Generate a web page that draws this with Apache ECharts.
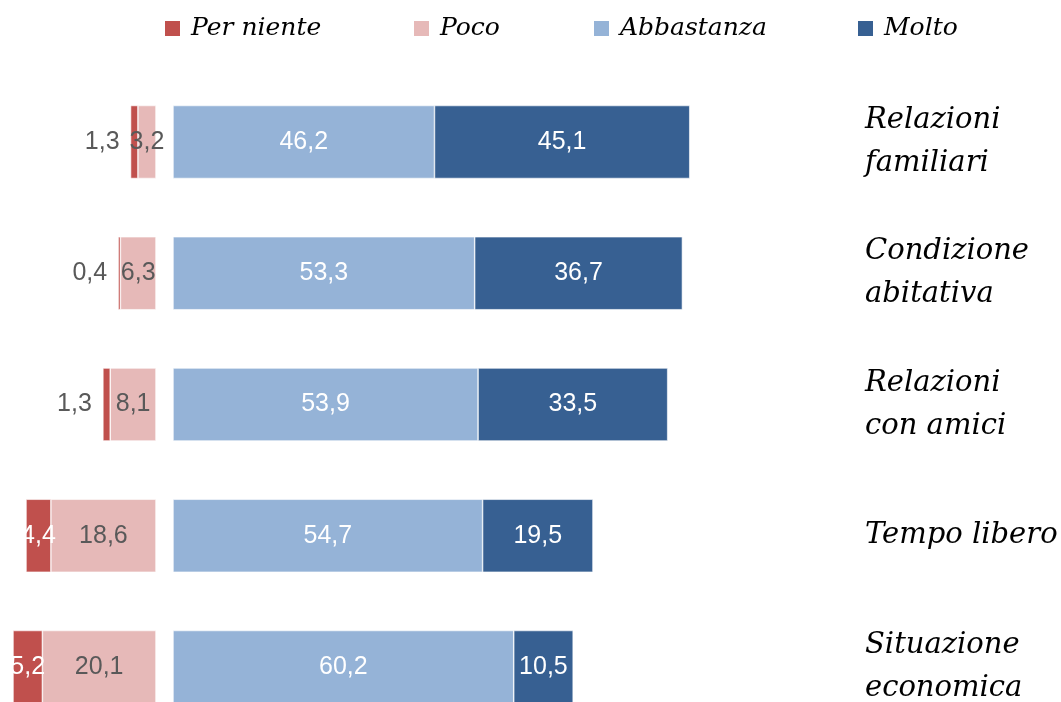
<!DOCTYPE html>
<html><head><meta charset="utf-8">
<script src="https://cdn.jsdelivr.net/npm/echarts@6/dist/echarts.min.js"></script>
<style>html,body{margin:0;padding:0;background:#fff}#c{width:1061px;height:702px}</style></head>
<body><div id="c"></div><script>
const categories = ['Relazioni\nfamiliari', 'Condizione\nabitativa', 'Relazioni\ncon amici', 'Tempo libero', 'Situazione\neconomica'];
const perNiente = [1.3, 0.4, 1.3, 4.4, 5.2];
const poco = [3.2, 6.3, 8.1, 18.6, 20.1];
const abbastanza = [46.2, 53.3, 53.9, 54.7, 60.2];
const molto = [45.1, 36.7, 33.5, 19.5, 10.5];
const seriesNames = ['Per niente', 'Poco', 'Abbastanza', 'Molto'];

const colors = { 'Per niente': '#C0504D', 'Poco': '#E6B9B8', 'Abbastanza': '#95B3D7', 'Molto': '#376092' };
const scriptFont = "'DejaVu Serif', 'Liberation Serif', serif";
const numFont = "'Liberation Sans', Arial, sans-serif";
const fmt = p => String(p.value).replace('.', ',');

const chart = echarts.init(document.getElementById('c'), null, { renderer: 'canvas' });

const TOP = 142, H = 525, BW = 73;

function legendAt(name, left) {
  return {
    data: [name], left: left, top: 16, padding: 0, orient: 'horizontal',
    icon: 'rect', itemWidth: 17, itemHeight: 17, selectedMode: false,
    textStyle: { fontFamily: scriptFont, fontStyle: 'italic', fontSize: 25, color: '#000', padding: [0, 0, 0, 5] }
  };
}

const option = {
  animation: false,
  backgroundColor: '#fff',
  legend: [legendAt('Per niente', 163), legendAt('Poco', 412), legendAt('Abbastanza', 592), legendAt('Molto', 856)],
  grid: [
    { left: 0, top: TOP, width: 156, height: H, outerBoundsMode: 'none', containLabel: false },
    { left: 173, top: TOP, width: 566, height: H, outerBoundsMode: 'none', containLabel: false }
  ],
  xAxis: [
    { gridIndex: 0, type: 'value', min: 0, max: 27.6, inverse: true, show: false },
    { gridIndex: 1, type: 'value', min: 0, max: 100, show: false }
  ],
  yAxis: [
    { gridIndex: 0, type: 'category', data: categories, inverse: true, boundaryGap: false, show: false },
    { gridIndex: 1, type: 'category', data: categories, inverse: true, boundaryGap: false, position: 'right', offset: 124,
      axisLine: { show: false }, axisTick: { show: false },
      axisLabel: { margin: 2, align: 'left', fontFamily: scriptFont, fontStyle: 'italic', fontSize: 29, color: '#000', lineHeight: 43 } }
  ],
  series: [
    {
      name: 'Poco', type: 'bar', stack: 'L', xAxisIndex: 0, yAxisIndex: 0, barWidth: BW,
      itemStyle: { color: colors['Poco'], borderColor: '#fff', borderWidth: 0.6 },
      label: { show: true, position: 'inside', formatter: fmt, fontFamily: numFont, fontSize: 25, color: '#595959' },
      data: poco
    },
    {
      name: 'Per niente', type: 'bar', stack: 'L', xAxisIndex: 0, yAxisIndex: 0, barWidth: BW,
      itemStyle: { color: colors['Per niente'], borderColor: '#fff', borderWidth: 0.6 },
      label: { show: true, formatter: fmt, fontFamily: numFont, fontSize: 25 },
      data: perNiente.map(v => v < 2
        ? { value: v, label: { position: 'left', distance: 11, color: '#595959' } }
        : { value: v, label: { position: 'inside', color: '#fff' } })
    },
    {
      name: 'Abbastanza', type: 'bar', stack: 'R', xAxisIndex: 1, yAxisIndex: 1, barWidth: BW,
      itemStyle: { color: colors['Abbastanza'], borderColor: '#fff', borderWidth: 0.6 },
      label: { show: true, position: 'inside', formatter: fmt, fontFamily: numFont, fontSize: 25, color: '#fff' },
      data: abbastanza
    },
    {
      name: 'Molto', type: 'bar', stack: 'R', xAxisIndex: 1, yAxisIndex: 1, barWidth: BW,
      itemStyle: { color: colors['Molto'], borderColor: '#fff', borderWidth: 0.6 },
      label: { show: true, position: 'inside', formatter: fmt, fontFamily: numFont, fontSize: 25, color: '#fff' },
      data: molto
    }
  ]
};
chart.setOption(option);
</script></body></html>
